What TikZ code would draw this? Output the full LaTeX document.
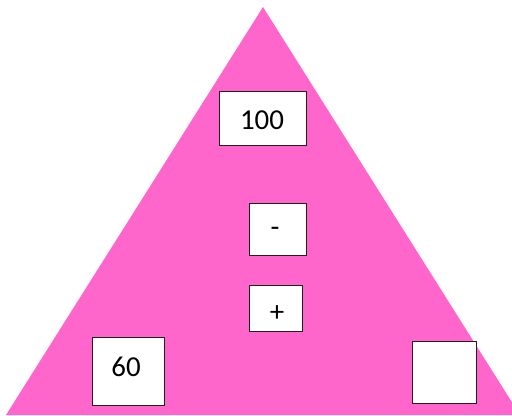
\documentclass[tikz,border=0pt]{standalone}
\usepackage{fontspec}
\setmainfont{Carlito}
\definecolor{tri}{HTML}{FF66CC}
\definecolor{edge}{HTML}{202020}
\tikzset{
  box/.style={draw=edge, line width=1.2bp, fill=white, inner sep=0pt, anchor=north west},
  num/.style={font=\fontsize{29}{29}\selectfont, inner sep=0pt}
}
\begin{document}
\begin{tikzpicture}[x=1bp, y=-1bp]
\useasboundingbox (0,0) rectangle (512,415);
\begin{scope}
\clip (0,0) rectangle (512,415);
\fill[tri] (263,7) -- (520,415) -- (6,415) -- cycle;
\end{scope}
\node[box, minimum width=87bp, minimum height=54bp] (b100) at (219,91) {};
\node[num] (t100) at (262,120) {100};
\node[box, minimum width=57bp, minimum height=52bp] (bminus) at (249,203) {};
\node[num] (tminus) at (275,232) {-};
\node[box, minimum width=53bp, minimum height=46bp] (bplus) at (249,285) {};
\node[num] (tplus) at (277,314) {+};
\node[box, minimum width=72bp, minimum height=68bp] (b60) at (92,337) {};
\node[num] (t60) at (126,367) {60};
\node[box, minimum width=64bp, minimum height=62bp] (bempty) at (412,341) {};
\end{tikzpicture}
\end{document}
